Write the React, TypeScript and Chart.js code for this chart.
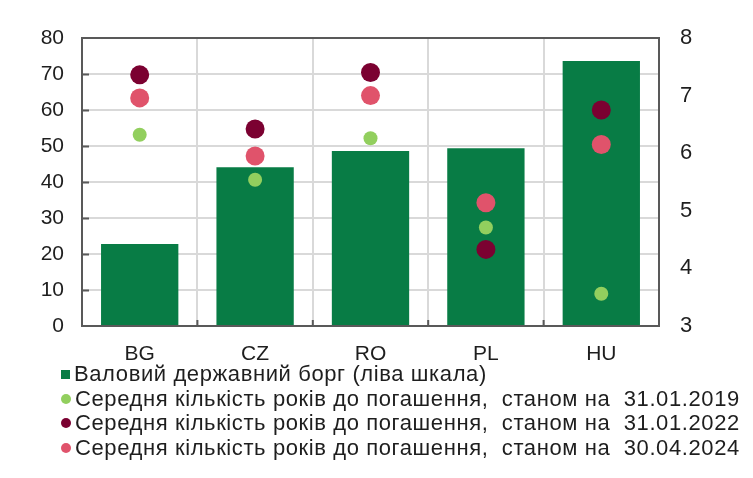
import React, { useEffect, useRef } from "react";
import { Chart, registerables } from "chart.js";

Chart.register(...registerables);

const categories = ["BG", "CZ", "RO", "PL", "HU"];
const grossDebt = [22.8, 44.1, 48.6, 49.4, 73.6];
const maturity2019 = [6.32, 5.54, 6.26, 4.71, 3.56];
const maturity2022 = [7.36, 6.42, 7.4, 4.33, 6.75];
const maturity2024 = [6.96, 5.95, 7.0, 5.14, 6.15];

const leftAxis = { min: 0, max: 80, step: 10 };
const rightAxis = { min: 3, max: 8, step: 1 };

const legendLabels = [
  "Валовий державний борг (ліва шкала)",
  "Середня кількість років до погашення,  станом на  31.01.2019",
  "Середня кількість років до погашення,  станом на  31.01.2022",
  "Середня кількість років до погашення,  станом на  30.04.2024",
];

const COLORS = {
  bar: "#087C45",
  m2019: "#92CF5E",
  m2022: "#7B0131",
  m2024: "#E0536B",
  grid: "#D9D9D9",
  frame: "#595959",
  text: "#1E1E1E",
};

const legendColors = [COLORS.bar, COLORS.m2019, COLORS.m2022, COLORS.m2024];

const framePlugin = {
  id: "frame",
  afterDatasetsDraw(chart: any) {
    const { ctx, chartArea } = chart;
    const { left, right, top, bottom } = chartArea;
    const y = chart.scales.y;
    const x = chart.scales.x;
    ctx.save();
    ctx.strokeStyle = COLORS.frame;
    ctx.lineWidth = 2;
    ctx.strokeRect(left, top, right - left, bottom - top);
    ctx.beginPath();
    for (let v = leftAxis.min + leftAxis.step; v < leftAxis.max; v += leftAxis.step) {
      const py = Math.round(y.getPixelForValue(v)) + 0.5;
      ctx.moveTo(left, py);
      ctx.lineTo(left + 7, py);
    }
    for (let i = 1; i < categories.length; i++) {
      const px = (x.getPixelForValue(i - 1) + x.getPixelForValue(i)) / 2;
      ctx.moveTo(px, bottom);
      ctx.lineTo(px, bottom - 6);
    }
    ctx.stroke();
    ctx.restore();
  },
};

export default function App() {
  const canvasRef = useRef<HTMLCanvasElement>(null);

  useEffect(() => {
    const canvas = canvasRef.current;
    if (!canvas) return;
    const pointDs = (label: string, data: number[], color: string, r: number) => ({
      type: "line" as const,
      label,
      data,
      yAxisID: "y1",
      showLine: false,
      pointRadius: r,
      pointHoverRadius: r,
      pointBackgroundColor: color,
      pointBorderColor: color,
      pointBorderWidth: 0,
      backgroundColor: color,
      borderColor: color,
      order: 0,
    });
    const chart = new Chart(canvas, {
      type: "bar",
      data: {
        labels: categories,
        datasets: [
          pointDs(legendLabels[1], maturity2019, COLORS.m2019, 7),
          pointDs(legendLabels[2], maturity2022, COLORS.m2022, 9.5),
          pointDs(legendLabels[3], maturity2024, COLORS.m2024, 9.5),
          {
            type: "bar" as const,
            label: legendLabels[0],
            data: grossDebt,
            yAxisID: "y",
            backgroundColor: COLORS.bar,
            borderWidth: 0,
            barPercentage: 0.67,
            categoryPercentage: 1,
            order: 1,
          },
        ] as any,
      },
      options: {
        animation: false,
        responsive: false,
        maintainAspectRatio: false,
        layout: { padding: { top: 38, left: 0, right: 0, bottom: 0 } },
        plugins: {
          legend: { display: false },
          tooltip: { enabled: false },
          title: { display: false },
        },
        scales: {
          x: {
            offset: true,
            grid: {
              offset: true,
              color: COLORS.grid,
              lineWidth: 2,
              drawTicks: false,
            },
            border: { display: false },
            ticks: {
              padding: 16,
              color: COLORS.text,
              font: { family: "'Liberation Sans', Arial, sans-serif", size: 21 },
            },
            afterFit(scale: any) {
              scale.height = 152;
            },
          },
          y: {
            position: "left",
            min: leftAxis.min,
            max: leftAxis.max,
            ticks: {
              stepSize: leftAxis.step,
              padding: 18,
              color: COLORS.text,
              font: { family: "'Liberation Sans', Arial, sans-serif", size: 21 },
            },
            grid: { color: COLORS.grid, lineWidth: 2, drawTicks: false },
            border: { display: false },
            afterFit(scale: any) {
              scale.width = 82;
            },
          },
          y1: {
            position: "right",
            min: rightAxis.min,
            max: rightAxis.max,
            ticks: {
              stepSize: rightAxis.step,
              padding: 21,
              color: COLORS.text,
              font: { family: "'Liberation Sans', Arial, sans-serif", size: 22 },
            },
            grid: { display: false, drawTicks: false },
            border: { display: false },
            afterFit(scale: any) {
              scale.width = 94;
            },
          },
        },
      } as any,
      plugins: [framePlugin],
    });
    return () => chart.destroy();
  }, []);

  return (
    <div
      style={{
        position: "absolute",
        left: 0,
        top: 0,
        width: 753,
        height: 478,
        background: "#fff",
        overflow: "hidden",
      }}
    >
      <canvas ref={canvasRef} width={753} height={478} style={{ position: "absolute", left: 0, top: 0 }} />
      <div
        style={{
          position: "absolute",
          left: 61,
          top: 362,
          fontFamily: "'Liberation Sans', Arial, sans-serif",
          fontSize: 22,
          letterSpacing: "0.6px",
          color: COLORS.text,
          lineHeight: "24.5px",
          whiteSpace: "pre",
        }}
      >
        {legendLabels.map((label, i) => (
          <div key={i} style={{ display: "flex", alignItems: "center", height: 24.5 }}>
            <span
              style={{
                display: "inline-block",
                flex: "none",
                width: i === 0 ? 9 : 10,
                height: i === 0 ? 9 : 10,
                borderRadius: i === 0 ? 0 : "50%",
                background: legendColors[i],
                marginRight: 4,
              }}
            />
            <span>{label}</span>
          </div>
        ))}
      </div>
    </div>
  );
}
